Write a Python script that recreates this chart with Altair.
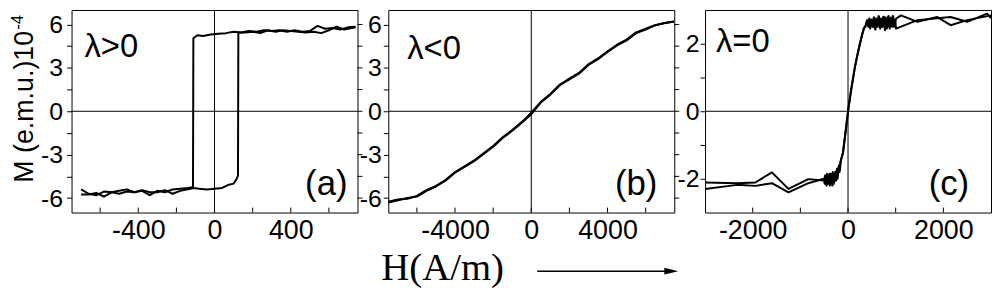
import altair as alt
import pandas as pd

# ---------------- data ----------------
# panel (a): lambda > 0, square hysteresis loop
A_DOWN = [(740, 5.85), (700, 5.8), (660, 5.65), (620, 5.75), (580, 5.7), (540, 5.9), (500, 5.55),
          (460, 5.5), (420, 5.6), (380, 5.5), (340, 5.6), (300, 5.55), (260, 5.6), (220, 5.5),
          (180, 5.55), (140, 5.45), (100, 5.5), (60, 5.4), (20, 5.35), (-20, 5.3), (-60, 5.2),
          (-90, 5.25), (-111, 5.05), (-113, -5.25), (-140, -5.3), (-180, -5.35), (-220, -5.4),
          (-260, -5.6), (-300, -5.5), (-340, -5.8), (-380, -5.5), (-420, -5.6), (-460, -5.55),
          (-500, -5.7), (-540, -5.6), (-580, -5.55), (-620, -5.8), (-660, -5.7), (-700, -5.4)]
A_UP = [(-700, -5.75), (-660, -5.75), (-620, -5.65), (-580, -5.9), (-540, -5.6), (-500, -5.5),
        (-460, -5.4), (-420, -5.6), (-380, -5.45), (-340, -5.6), (-300, -5.6), (-260, -5.45),
        (-220, -5.7), (-180, -5.5), (-140, -5.4), (-111, -5.3), (-80, -5.35), (-40, -5.4),
        (0, -5.35), (40, -5.3), (70, -5.1), (100, -5.0), (115, -4.7), (123, -4.45), (125, 5.45),
        (160, 5.45), (200, 5.5), (240, 5.4), (280, 5.6), (320, 5.5), (360, 5.6), (400, 5.55),
        (440, 5.5), (480, 5.45), (520, 5.5), (560, 5.4), (600, 5.6), (640, 5.85), (680, 5.65),
        (740, 5.8)]

# panel (b): lambda < 0
B_H = [-7500, -7000, -6500, -6000, -5500, -5000, -4500, -4000, -3500, -3000, -2500, -2000,
       -1500, -1000, -500, 0, 500, 1000, 1500, 2000, 2500, 3000, 3500, 4000, 4500, 5000,
       5500, 6000, 6500, 7000, 7500]
B_M_UP = [-6.3, -6.15, -6.0, -5.9, -5.5, -5.2, -4.8, -4.25, -3.85, -3.45, -2.95, -2.45, -1.85,
          -1.35, -0.8, -0.2, 0.6, 1.15, 1.8, 2.2, 2.6, 3.2, 3.6, 4.1, 4.55, 4.9, 5.4, 5.65,
          5.95, 6.1, 6.2]
B_M_DOWN = [-6.25, -6.1, -6.05, -5.85, -5.45, -5.15, -4.75, -4.2, -3.8, -3.4, -2.9, -2.4, -1.8,
            -1.3, -0.75, -0.1, 0.65, 1.2, 1.85, 2.25, 2.65, 3.25, 3.65, 4.15, 4.6, 4.95, 5.45,
            5.7, 5.95, 6.1, 6.2]

# panel (c): lambda = 0
C_DOWN = [(3000, 2.84), (2500, 2.70), (2153, 2.55), (1875, 2.79), (1458, 2.65), (1111, 2.84),
          (1007, 2.74), (975, 2.55), (950, 2.8), (925, 2.5), (900, 2.78), (875, 2.45), (850, 2.82),
          (825, 2.55), (800, 2.75), (775, 2.4), (750, 2.8), (725, 2.5), (700, 2.72), (675, 2.45),
          (650, 2.8), (625, 2.55), (600, 2.7), (575, 2.42), (550, 2.78), (525, 2.5), (500, 2.72),
          (475, 2.55), (450, 2.75), (425, 2.5), (400, 2.7), (375, 2.55), (347, 2.5), (300, 2.3),
          (243, 1.96), (200, 1.7), (139, 1.27), (60, 0.6), (0, 0.0), (-60, -0.7), (-104, -1.23),
          (-120, -1.3), (-160, -1.5), (-180, -1.8), (-200, -1.65), (-220, -2.0), (-240, -1.75),
          (-260, -2.05), (-280, -1.85), (-300, -2.15), (-320, -1.8), (-340, -2.1), (-360, -1.85),
          (-380, -2.2), (-400, -1.9), (-420, -2.1), (-440, -1.85), (-460, -2.15), (-480, -1.9),
          (-500, -2.05), (-833, -2.01), (-1250, -2.30), (-1597, -1.81), (-1944, -2.11),
          (-2326, -2.13), (-3000, -2.11)]
C_UP = [(-3000, -2.30), (-2326, -2.18), (-1944, -2.21), (-1597, -2.13), (-1250, -2.40),
        (-833, -2.13), (-510, -2.0), (-490, -2.15), (-470, -1.9), (-450, -2.2), (-430, -1.95),
        (-410, -2.15), (-390, -1.85), (-370, -2.1), (-350, -1.9), (-330, -2.2), (-310, -1.9),
        (-290, -2.1), (-270, -1.8), (-250, -2.05), (-230, -1.7), (-210, -1.9), (-190, -1.6),
        (-170, -1.75), (-150, -1.45), (-110, -1.25), (-50, -0.6), (10, 0.1), (80, 0.75),
        (150, 1.35), (250, 2.0), (330, 2.45), (365, 2.5), (390, 2.65), (415, 2.55), (440, 2.72),
        (465, 2.45), (490, 2.7), (515, 2.5), (540, 2.78), (565, 2.45), (590, 2.75), (615, 2.5),
        (640, 2.82), (665, 2.48), (690, 2.75), (715, 2.5), (740, 2.8), (765, 2.55), (790, 2.78),
        (815, 2.45), (840, 2.8), (865, 2.5), (890, 2.75), (915, 2.55), (940, 2.82), (965, 2.5),
        (990, 2.7), (1007, 2.45), (1458, 2.70), (2153, 2.79), (2500, 2.65), (2917, 2.89),
        (3000, 2.76)]

# axes
A_XLABELS = [-400, 0, 400]
A_XTICKS = [-600, -400, -200, 0, 200, 400, 600]
B_XLABELS = [-4000, 0, 4000]
B_XTICKS = [-6000, -4000, -2000, 0, 2000, 4000, 6000]
C_XLABELS = [-2000, 0, 2000]
C_XTICKS = [-2000, -1000, 0, 1000, 2000]
AB_YTICKS = [-6, -4.5, -3, -1.5, 0, 1.5, 3, 4.5, 6]
C_YTICKS = [-2, -1, 0, 1, 2]

PANEL_TEXT = ["λ>0", "λ<0", "λ=0"]
PANEL_TAG = ["(a)", "(b)", "(c)"]
Y_TITLE = "M (e.m.u.)10"
Y_TITLE_EXP = "-4"
X_TITLE = "H(A/m)"

W, H = 288, 204
FONT = "Liberation Sans"


def frame(branches):
    rows = []
    for b, pairs in enumerate(branches):
        for i, (h, m) in enumerate(pairs):
            rows.append({"H": h, "M": m, "branch": b, "i": i})
    return pd.DataFrame(rows)


def panel(df, xdom, ydom, xlabels, xticks, yticks, ymod, tl, tl_xy, tag, tag_xy,
          lab_pad, right_ticks=True, extra=None):
    X = alt.X("H:Q", scale=alt.Scale(domain=xdom, nice=False, zero=False),
              axis=alt.Axis(values=xlabels, ticks=False, domain=False, grid=False,
                            labelFontSize=27, labelPadding=5, title=None,
                            labelExpr="'' + datum.value", labelFont=FONT,
                            labelColor="black"))
    Y = alt.Y("M:Q", scale=alt.Scale(domain=ydom, nice=False, zero=False),
              axis=alt.Axis(values=yticks, ticks=True, tickSize=5, tickColor="black",
                            domain=False, grid=False, labelFontSize=25,
                            labelPadding=lab_pad, title=None, labelFont=FONT,
                            labelColor="black",
                            labelExpr=f"datum.value % {ymod} == 0 ? '' + datum.value : ''"))
    one = pd.DataFrame({"H": [0], "M": [0]})
    layers = [
        alt.Chart(one).mark_rule(color="black", strokeWidth=1).encode(x=X),
        alt.Chart(one).mark_rule(color="black", strokeWidth=1).encode(y=Y),
        alt.Chart(pd.DataFrame({"H": xticks})).mark_rule(color="black", strokeWidth=1)
        .encode(x=X, y=alt.value(H), y2=alt.value(H - 5)),
        alt.Chart(df).mark_line(color="black", strokeWidth=2, clip=True,
                                strokeJoin="round")
        .encode(x=X, y=Y, detail="branch:N", order="i:Q"),
        alt.Chart(one).mark_text(text=tl, font=FONT, fontSize=33, align="left",
                                 baseline="alphabetic", color="black")
        .encode(x=alt.value(tl_xy[0]), y=alt.value(tl_xy[1])),
        alt.Chart(one).mark_text(text=tag, font=FONT, fontSize=35, align="right",
                                 baseline="alphabetic", color="black")
        .encode(x=alt.value(tag_xy[0]), y=alt.value(tag_xy[1])),
    ]
    if right_ticks:
        layers.append(
            alt.Chart(pd.DataFrame({"M": yticks})).mark_rule(color="black", strokeWidth=1)
            .encode(y=Y, x=alt.value(W), x2=alt.value(W + 5)))
    if extra:
        layers += extra
    return alt.layer(*layers).properties(width=W, height=H)


one = pd.DataFrame({"v": [0]})
extra_a = [
    alt.Chart(one).mark_text(text=Y_TITLE, font=FONT, fontSize=27, angle=270, align="left",
                             baseline="alphabetic", color="black")
    .encode(x=alt.value(-39), y=alt.value(174)),
    alt.Chart(one).mark_text(text=Y_TITLE_EXP, font=FONT, fontSize=17, angle=270,
                             align="left", baseline="alphabetic", color="black")
    .encode(x=alt.value(-49), y=alt.value(20)),
    alt.Chart(one).mark_text(text=X_TITLE, font="Liberation Serif", fontSize=39,
                             align="left", baseline="alphabetic", color="black")
    .encode(x=alt.value(312), y=alt.value(272)),
    alt.Chart(one).mark_rule(color="black", strokeWidth=1.5)
    .encode(x=alt.value(469), x2=alt.value(605), y=alt.value(263)),
    alt.Chart(one).mark_point(shape="M-1,-0.5L1,0L-1,0.5Z", size=196, filled=True,
                              color="black", opacity=1)
    .encode(x=alt.value(604), y=alt.value(263)),
]

pa = panel(frame([A_DOWN, A_UP]), [-750, 750], [-7, 7], A_XLABELS, A_XTICKS, AB_YTICKS, 3,
           PANEL_TEXT[0], (13, 47), PANEL_TAG[0], (278, 186), 4, extra=extra_a)
pb = panel(frame([list(zip(B_H, B_M_UP)), list(zip(B_H[::-1], B_M_DOWN[::-1]))]),
           [-7500, 7500], [-7, 7], B_XLABELS, B_XTICKS, AB_YTICKS, 3,
           PANEL_TEXT[1], (19, 49), PANEL_TAG[1], (271, 186), 2)
pc = panel(frame([C_DOWN, C_UP]), [-3000, 3000], [-3, 3], C_XLABELS, C_XTICKS, C_YTICKS, 2,
           PANEL_TEXT[2], (11, 42), PANEL_TAG[2], (266, 186), 1, right_ticks=False)

chart = (
    alt.hconcat(pa, pb, pc, spacing=31, bounds="flush")
    .properties(padding={"left": 0, "top": 0, "right": 0, "bottom": 0})
    .configure_view(stroke="black", strokeWidth=1)
)

chart.save("out.html", embed_options={"renderer": "svg", "actions": False})
